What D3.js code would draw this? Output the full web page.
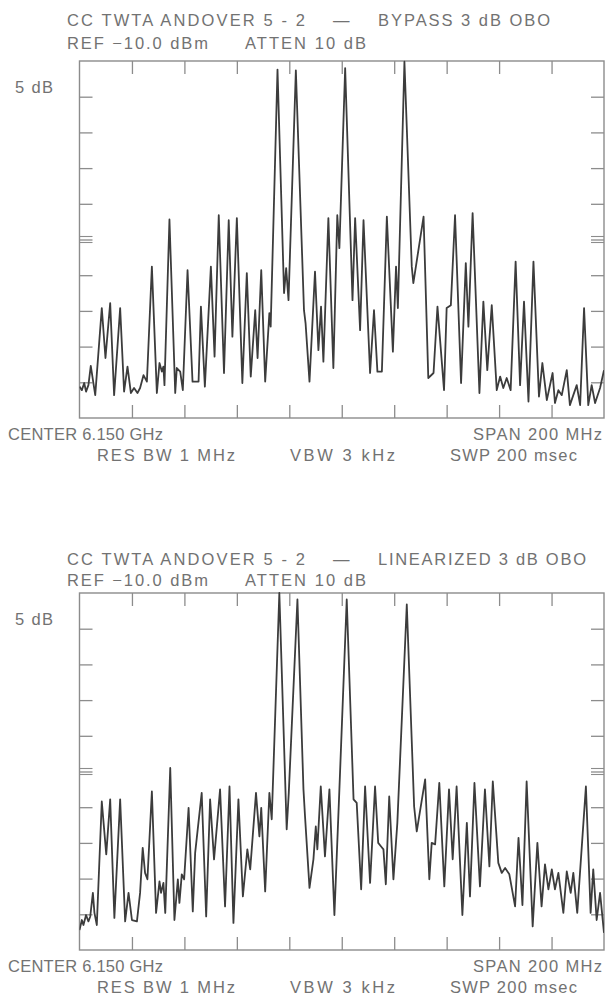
<!DOCTYPE html>
<html>
<head>
<meta charset="utf-8">
<script src="https://cdn.jsdelivr.net/npm/d3@7"></script>
<style>
  html, body { margin: 0; padding: 0; background: #fff; }
  svg text { font-family: "Liberation Sans", Arial, Helvetica, sans-serif; fill: #727272; }
</style>
</head>
<body>
<svg id="chart" width="605" height="1001"></svg>
<script>
// Spectrum analyser sweeps, TWTA output with four carriers at 3 dB output back-off.
// Each point: [frequency offset from centre in MHz, level in dBm]
const bypassTrace = [
  [-100,-55.6],[-99.1,-56.1],[-98.2,-55.1],[-97.5,-56.3],[-96.6,-55.4],[-95.7,-52.7],[-94.0,-56.8],
  [-91.5,-44.6],[-90.1,-51.6],[-88.3,-43.9],[-86.8,-56.8],[-84.5,-44.6],[-83.0,-56.3],[-81.7,-52.8],
  [-80.4,-56.5],[-79.2,-55.8],[-77.9,-56.5],[-76.9,-55.8],[-75.6,-54.0],[-74.3,-54.9],[-72.4,-38.8],
  [-70.5,-56.5],[-69.5,-52.3],[-68.6,-53.5],[-68.0,-52.8],[-67.6,-55.4],[-65.7,-32.2],[-63.5,-56.5],
  [-62.9,-53.0],[-61.6,-53.5],[-60.6,-56.1],[-58.8,-39.3],[-56.9,-54.9],[-54.6,-54.9],[-53.7,-44.4],
  [-52.2,-55.6],[-49.9,-38.8],[-48.5,-51.4],[-46.9,-31.6],[-44.9,-53.7],[-43.1,-32.3],[-41.7,-48.6],
  [-40.0,-32.0],[-37.9,-55.1],[-36.2,-39.7],[-34.7,-54.2],[-33.0,-44.9],[-32.1,-51.6],[-30.7,-39.3],
  [-29.2,-54.9],[-27.6,-45.3],[-27.1,-47.2],[-24.5,-11.2],[-22.0,-42.5],[-21.2,-39.0],[-20.3,-43.5],
  [-17.5,-11.3],[-14.4,-44.9],[-13.8,-46.7],[-12.3,-54.9],[-10.2,-39.5],[-8.9,-50.5],[-7.9,-44.4],
  [-7.0,-52.1],[-5.1,-32.0],[-3.2,-53.0],[-1.7,-31.6],[-0.9,-36.2],[1.3,-11.0],[4.1,-43.5],
  [5.1,-32.0],[7.0,-47.7],[8.3,-32.3],[10.8,-53.7],[12.3,-44.9],[13.6,-53.5],[15.3,-53.5],
  [17.2,-31.8],[19.5,-50.7],[20.7,-38.8],[21.4,-44.6],[23.9,-10.1],[26.7,-38.8],[27.3,-41.1],
  [31.2,-31.8],[33.0,-54.4],[35.0,-53.7],[36.5,-44.4],[39.0,-56.1],[40.0,-44.6],[41.6,-44.2],
  [43.2,-31.6],[45.5,-55.1],[47.3,-38.3],[48.3,-47.2],[49.9,-31.3],[52.5,-56.5],[54.0,-43.7],
  [55.5,-53.3],[57.2,-44.2],[59.1,-56.1],[60.4,-54.2],[61.6,-55.8],[62.9,-54.4],[64.4,-56.1],
  [66.3,-38.1],[68.0,-55.4],[69.5,-43.7],[71.2,-57.7],[73.1,-38.1],[75.2,-57.0],[76.5,-52.3],
  [78.2,-57.5],[80.4,-53.7],[81.3,-57.9],[82.6,-56.1],[83.9,-56.8],[85.8,-53.3],[87.0,-58.2],
  [89.6,-55.4],[90.9,-58.2],[92.4,-44.6],[94.0,-58.2],[95.3,-55.4],[96.6,-57.9],[98.5,-55.8],
  [100,-53.3]
];

const linearizedTrace = [
  [-100,-57.2],[-99.1,-55.8],[-98.5,-56.5],[-97.5,-55.1],[-96.6,-56.0],[-95.9,-55.3],[-94.9,-52.0],
  [-94.3,-54.8],[-93.4,-56.5],[-91.5,-39.2],[-89.8,-46.6],[-88.3,-38.9],[-86.7,-55.5],[-84.5,-38.9],
  [-82.6,-56.0],[-81.3,-52.0],[-80.0,-55.8],[-78.1,-56.0],[-76.9,-52.0],[-75.9,-45.7],[-75.0,-49.2],
  [-74.1,-50.1],[-72.4,-37.8],[-70.8,-54.8],[-69.5,-50.4],[-68.9,-52.0],[-68.0,-50.6],[-67.3,-54.8],
  [-65.4,-34.5],[-63.8,-55.8],[-62.5,-50.1],[-61.9,-53.4],[-61.0,-49.4],[-60.1,-50.1],[-58.4,-40.1],
  [-56.8,-54.6],[-55.9,-46.4],[-53.4,-38.0],[-51.7,-55.3],[-50.2,-38.9],[-48.7,-47.3],[-46.4,-37.5],
  [-44.5,-53.9],[-42.8,-37.1],[-41.3,-56.2],[-39.4,-38.9],[-37.7,-52.5],[-36.0,-45.9],[-34.9,-48.7],
  [-32.7,-38.0],[-31.4,-44.1],[-30.7,-40.1],[-29.2,-51.8],[-27.6,-38.0],[-26.7,-41.7],[-23.8,-10.0],
  [-21.0,-43.1],[-20.2,-38.0],[-16.9,-10.9],[-14.6,-37.5],[-14.0,-41.3],[-12.3,-51.3],[-10.8,-47.3],
  [-9.9,-42.7],[-9.3,-45.9],[-8.0,-37.1],[-6.4,-46.9],[-4.7,-37.5],[-2.8,-55.1],[-0.9,-37.5],
  [1.9,-10.9],[4.5,-38.9],[5.7,-39.4],[7.4,-51.5],[8.9,-37.1],[10.8,-50.6],[12.7,-37.1],
  [13.9,-45.0],[15.0,-45.5],[15.9,-45.9],[16.8,-50.8],[18.1,-38.5],[19.7,-50.1],[21.2,-42.2],
  [24.8,-11.6],[27.6,-39.9],[28.6,-43.4],[31.8,-36.1],[33.4,-50.1],[34.3,-45.0],[35.6,-45.2],
  [37.2,-36.6],[39.1,-51.1],[40.9,-37.5],[42.3,-47.3],[43.8,-37.1],[46.0,-55.1],[47.7,-42.2],
  [48.9,-52.5],[50.6,-36.6],[52.7,-51.1],[54.6,-37.5],[56.3,-48.3],[57.6,-36.4],[59.7,-47.8],
  [61.0,-49.2],[62.3,-48.5],[63.9,-49.4],[66.1,-53.9],[67.4,-44.3],[68.9,-53.7],[70.5,-36.4],
  [72.8,-56.7],[74.6,-45.0],[76.2,-53.9],[77.5,-48.0],[78.8,-51.5],[80.1,-48.7],[81.3,-51.5],
  [82.6,-49.2],[84.5,-54.8],[85.8,-49.0],[87.3,-52.0],[88.3,-49.2],[89.8,-54.8],[93.1,-37.1],
  [94.9,-54.8],[95.9,-48.7],[97.2,-55.8],[98.5,-52.0],[100,-57.6]
];

// Graticule: 10 divisions of 20 MHz across, 10 divisions of 5 dB down from the reference level
const freqDomain = [-100, 100];
const levelDomain = [-10, -60];
const freqTicks = [-80, -60, -40, -20, 0, 20, 40, 60, 80];
const levelTicks = [-15, -20, -25, -30, -35, -40, -45, -50, -55];
const midLevel = -35;

// Annotation text
const modes = ["BYPASS 3 dB OBO", "LINEARIZED 3 dB OBO"];
const deviceLabel = "CC TWTA ANDOVER 5 - 2";
const refLabel = "REF \u221210.0 dBm";
const attenLabel = "ATTEN 10 dB";
const scaleLabel = "5 dB";
const centerLabel = "CENTER 6.150 GHz";
const spanLabel = "SPAN 200 MHz";
const rbwLabel = "RES BW 1 MHz";
const vbwLabel = "VBW 3 kHz";
const sweepLabel = "SWP 200 msec";

const svg = d3.select("#chart");
const plotLeft = 79.5, plotRight = 604, plotH = 357;

const panels = [
  { trace: bypassTrace, mode: modes[0], top: 61, head1: 26, head2: 48.5, w3: 172 },
  { trace: linearizedTrace, mode: modes[1], top: 593, head1: 565, head2: 586, w3: 208 }
];

function label(g, text, x, y, width) {
  return g.append("text")
    .attr("x", x).attr("y", y)
    .style("font-size", "16.5px")
    .attr("textLength", width)
    .attr("lengthAdjust", "spacing")
    .text(text);
}

panels.forEach((p, i) => {
  const g = svg.append("g");
  const x = d3.scaleLinear().domain(freqDomain).range([plotLeft, plotRight]);
  const y = d3.scaleLinear().domain(levelDomain).range([p.top, p.top + plotH]);
  const bottom = p.top + plotH;

  // header
  label(g, deviceLabel, 67, p.head1, 238);
  label(g, "\u2014", 333, p.head1, 15);
  label(g, p.mode, 378, p.head1, p.w3);
  label(g, refLabel, 67, p.head2, 141);
  label(g, attenLabel, 245, p.head2, 121);
  label(g, scaleLabel, 15, p.top + 32, 38);

  // footer
  label(g, centerLabel, 8, bottom + 22, 155);
  label(g, spanLabel, 473, bottom + 22, 129);
  label(g, rbwLabel, 97, bottom + 42.5, 138);
  label(g, vbwLabel, 290, bottom + 42.5, 105);
  label(g, sweepLabel, 450, bottom + 42.5, 127);

  // frame
  const axisColor = "#8c8c8c";
  g.append("rect")
    .attr("x", plotLeft).attr("y", p.top)
    .attr("width", plotRight - plotLeft).attr("height", plotH)
    .attr("fill", "none").attr("stroke", axisColor).attr("stroke-width", 1.4);

  // inward graticule ticks on all four sides
  const tick = 13;
  const axes = [
    { gen: d3.axisTop(x).tickValues(freqTicks).tickSizeInner(-tick), t: `translate(0,${p.top})` },
    { gen: d3.axisBottom(x).tickValues(freqTicks).tickSizeInner(-tick), t: `translate(0,${bottom})` },
    { gen: d3.axisLeft(y).tickValues(levelTicks).tickSizeInner(-tick), t: `translate(${plotLeft},0)` },
    { gen: d3.axisRight(y).tickValues(levelTicks).tickSizeInner(-tick), t: `translate(${plotRight},0)` }
  ];
  axes.forEach(a => {
    const ag = g.append("g").attr("transform", a.t)
      .call(a.gen.tickSizeOuter(0).tickFormat(""));
    ag.select(".domain").remove();
    ag.selectAll(".tick line").attr("stroke", axisColor).attr("stroke-width", 1.3);
  });

  // reference-line marker at the centre division (triple tick)
  [-3, 3].forEach(off => {
    g.append("line")
      .attr("x1", plotLeft).attr("x2", plotLeft + tick)
      .attr("y1", y(midLevel) + off).attr("y2", y(midLevel) + off)
      .attr("stroke", axisColor).attr("stroke-width", 1.1);
    g.append("line")
      .attr("x1", plotRight).attr("x2", plotRight - tick)
      .attr("y1", y(midLevel) + off).attr("y2", y(midLevel) + off)
      .attr("stroke", axisColor).attr("stroke-width", 1.1);
  });

  // trace
  const clipId = "clip" + i;
  svg.append("clipPath").attr("id", clipId)
    .append("rect").attr("x", plotLeft).attr("y", p.top - 1)
    .attr("width", plotRight - plotLeft).attr("height", plotH + 2);

  const line = d3.line().x(d => x(d[0])).y(d => y(d[1]));
  g.append("path")
    .datum(p.trace)
    .attr("clip-path", `url(#${clipId})`)
    .attr("d", line)
    .attr("fill", "none")
    .attr("stroke", "#3c3c3c")
    .attr("stroke-width", 1.8)
    .attr("stroke-linejoin", "round");
});
</script>
</body>
</html>
